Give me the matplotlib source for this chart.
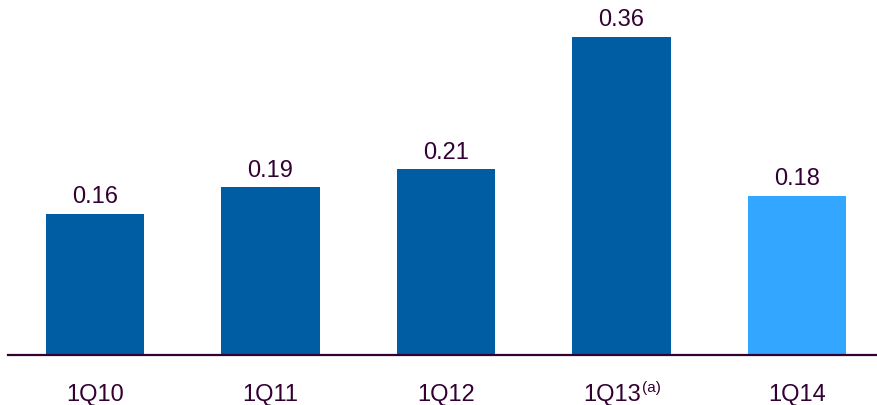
import numpy as np
import matplotlib.pyplot as plt
from matplotlib.transforms import ScaledTranslation

plt.rcParams['font.family'] = ['Liberation Sans', 'DejaVu Sans']

# Quarterly values
quarters = ['1Q10', '1Q11', '1Q12', '1Q13', '1Q14']
values = [0.16, 0.19, 0.21, 0.36, 0.18]
colors = ['#005DA4', '#005DA4', '#005DA4', '#005DA4', '#33A6FF']
footnote_idx = 3

text_color = '#330033'

fig = plt.figure(figsize=(8.77, 4.05), dpi=100)
ax = fig.add_axes([8 / 877, 50 / 405, 1 - 8 / 877, 355 / 405])

x = np.arange(len(values))
ax.bar(x, values, width=0.56, color=colors)

for xi, v in zip(x, values):
    ax.annotate(f'{v:.2f}', (xi, v), xytext=(0, 4), textcoords='offset points',
                ha='center', va='bottom', fontsize=17, color=text_color)

ax.set_xlim(-0.495, 4.455)
ax.set_ylim(0, 0.36 * 355 / 318)
ax.set_xticks(x)
ax.set_xticklabels(quarters, fontsize=17, color=text_color)
ax.tick_params(axis='x', length=0, pad=21)
ax.set_yticks([])

# shift the footnoted label left so label + "(a)" stays centred on the bar
lbl = ax.get_xticklabels()[footnote_idx]
lbl.set_transform(lbl.get_transform() + ScaledTranslation(-7 / 72, 0, fig.dpi_scale_trans))
fig.canvas.draw()
ax.annotate('(a)', xy=(1, 1), xycoords=lbl, xytext=(1, 2), textcoords='offset points',
            ha='left', va='top', fontsize=11, color=text_color)

for side in ['top', 'right', 'left']:
    ax.spines[side].set_visible(False)
ax.spines['bottom'].set_color(text_color)
ax.spines['bottom'].set_linewidth(1.6)

fig.savefig('out.png', dpi=100)
